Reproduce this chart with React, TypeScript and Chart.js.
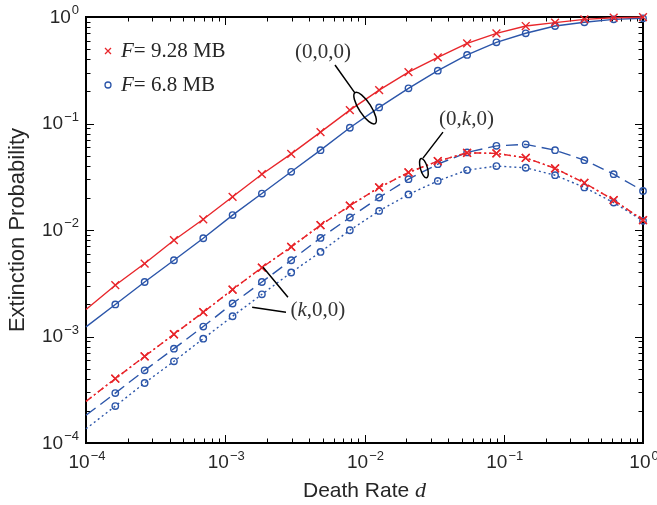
import React, { useEffect, useRef } from 'react';
import { Chart, registerables } from 'chart.js';
Chart.register(...registerables);

// Death rate d (x values)
const deathRate = [1e-4, 1.623e-4, 2.637e-4, 4.281e-4, 6.952e-4, 1.129e-3, 1.833e-3, 2.976e-3, 4.833e-3, 7.848e-3, 0.01274, 0.02069, 0.0336, 0.05456, 0.08859, 0.1438, 0.2336, 0.3793, 0.6158, 1.0];

// F = 9.28 MB
const red000 = [1.79e-3, 3.03e-3, 4.84e-3, 8.02e-3, 1.26e-2, 2.05e-2, 3.34e-2, 5.19e-2, 8.3e-2, 0.1336, 0.206, 0.304, 0.418, 0.566, 0.703, 0.823, 0.885, 0.95, 0.985, 0.995];
const redK00 = [2.46e-4, 4.02e-4, 6.51e-4, 1.05e-3, 1.69e-3, 2.76e-3, 4.44e-3, 6.94e-3, 1.11e-2, 1.69e-2, 2.51e-2, 3.47e-2, 4.43e-2, 5.31e-2, 5.24e-2, 4.76e-2, 3.79e-2, 2.77e-2, 1.91e-2, 1.24e-2];
const red0K0 = [2.46e-4, 4.02e-4, 6.51e-4, 1.05e-3, 1.69e-3, 2.76e-3, 4.44e-3, 6.94e-3, 1.11e-2, 1.69e-2, 2.51e-2, 3.47e-2, 4.43e-2, 5.31e-2, 5.24e-2, 4.76e-2, 3.79e-2, 2.77e-2, 1.91e-2, 1.24e-2];

// F = 6.8 MB
const blue000 = [1.23e-3, 2.0e-3, 3.25e-3, 5.2e-3, 8.37e-3, 1.38e-2, 2.2e-2, 3.52e-2, 5.62e-2, 9.12e-2, 0.1416, 0.214, 0.313, 0.44, 0.578, 0.703, 0.823, 0.892, 0.95, 0.972];
const blue0K0 = [1.82e-4, 2.94e-4, 4.81e-4, 7.69e-4, 1.24e-3, 2.04e-3, 3.25e-3, 5.2e-3, 8.43e-3, 1.31e-2, 2.02e-2, 3.0e-2, 4.15e-2, 5.35e-2, 6.17e-2, 6.37e-2, 5.62e-2, 4.53e-2, 3.34e-2, 2.33e-2];
const blueK00 = [1.36e-4, 2.22e-4, 3.66e-4, 5.85e-4, 9.55e-4, 1.55e-3, 2.49e-3, 3.99e-3, 6.22e-3, 9.95e-3, 1.51e-2, 2.16e-2, 2.89e-2, 3.65e-2, 3.98e-2, 3.84e-2, 3.27e-2, 2.51e-2, 1.81e-2, 1.22e-2];

const tickExponents = [-4, -3, -2, -1, 0];
const legendValues = ['9.28 MB', '6.8 MB'];
const xTitle = 'Death Rate ';
const xTitleVar = 'd';
const yTitle = 'Extinction Probability';

// annotation labels (data coordinates)
const annTexts = ['(0,0,0)', '(0,k,0)', '(k,0,0)'];
const annTextPos = [[5.04e-3, 0.479], [0.054, 0.1124], [4.63e-3, 1.8e-3]];
const annLines = [
  [[6.14e-3, 0.354], [8.55e-3, 0.193]],
  [[0.0366, 0.083], [0.0263, 0.0473]],
  [[1.87e-3, 4.47e-3], [2.82e-3, 2.34e-3]],
  [[1.56e-3, 1.88e-3], [2.73e-3, 1.69e-3]],
];
const annEllipses = [[1.01e-2, 0.1395], [0.0267, 0.0381]];

const RED = '#e8262b';
const BLUE = '#2b55a9';
const TXT = '#262626';
const SANS = '"Liberation Sans", Arial, Helvetica, sans-serif';
const SERIF = '"Liberation Serif", "Times New Roman", serif';

const pts = (ys: number[]) => ys.map((y, i) => ({ x: deathRate[i], y }));

function mkSet(label: string, ys: number[], color: string, dash: number[], cross: boolean) {
  return {
    label,
    data: pts(ys),
    borderColor: color,
    backgroundColor: 'transparent',
    borderWidth: 1.4,
    borderDash: dash,
    pointStyle: cross ? 'crossRot' : 'circle',
    pointRadius: (c: any) => (c.dataIndex === 0 ? 0 : cross ? 5.5 : 3.2),
    pointBorderColor: color,
    pointBackgroundColor: 'transparent',
    pointBorderWidth: 1.4,
    tension: 0,
    clip: false as any,
  };
}

function drawPow(ctx: CanvasRenderingContext2D, exp: number, x: number, y: number, align: 'right' | 'center') {
  const base = '10';
  const sup = exp === 0 ? '0' : '\u2212' + Math.abs(exp);
  ctx.font = `19px ${SANS}`;
  const wb = ctx.measureText(base).width;
  ctx.font = `13px ${SANS}`;
  const ws = ctx.measureText(sup).width;
  const total = wb + 1 + ws;
  const x0 = align === 'right' ? x - total : x - total / 2;
  ctx.textAlign = 'left';
  ctx.textBaseline = 'alphabetic';
  ctx.font = `19px ${SANS}`;
  ctx.fillText(base, x0, y);
  ctx.font = `13px ${SANS}`;
  ctx.fillText(sup, x0 + wb + 1, y - 8.5);
}

function drawMixed(ctx: CanvasRenderingContext2D, text: string, cx: number, baseline: number, size: number) {
  // render with italic "k"
  const parts = text.split(/(k)/).filter((s) => s.length);
  const fonts = parts.map((p) => (p === 'k' ? `italic ${size}px ${SERIF}` : `${size}px ${SERIF}`));
  let total = 0;
  const widths = parts.map((p, i) => {
    ctx.font = fonts[i];
    const w = ctx.measureText(p).width;
    total += w;
    return w;
  });
  let x = cx - total / 2;
  ctx.textAlign = 'left';
  ctx.textBaseline = 'alphabetic';
  parts.forEach((p, i) => {
    ctx.font = fonts[i];
    ctx.fillText(p, x, baseline);
    x += widths[i];
  });
}

const decorPlugin = {
  id: 'decor',
  beforeDatasetsDraw(chart: any) {
    const { ctx, chartArea: a, scales } = chart;
    const xs = scales.x;
    const ys = scales.y;
    ctx.save();
    ctx.strokeStyle = '#000';
    ctx.lineWidth = 1;
    ctx.beginPath();
    for (let e = -4; e <= 0; e++) {
      for (let m = 1; m <= 9; m++) {
        if (e === 0 && m > 1) break;
        const v = m * Math.pow(10, e);
        const len = m === 1 ? 8 : 4.5;
        const px = Math.round(xs.getPixelForValue(v)) + 0.5;
        ctx.moveTo(px, a.bottom);
        ctx.lineTo(px, a.bottom - len);
        ctx.moveTo(px, a.top);
        ctx.lineTo(px, a.top + len);
        const py = Math.round(ys.getPixelForValue(v)) + 0.5;
        ctx.moveTo(a.left, py);
        ctx.lineTo(a.left + len, py);
        ctx.moveTo(a.right, py);
        ctx.lineTo(a.right - len, py);
      }
    }
    ctx.stroke();
    ctx.lineWidth = 2;
    ctx.strokeRect(a.left, a.top, a.right - a.left, a.bottom - a.top);
    ctx.restore();
  },
  afterDatasetsDraw(chart: any) {
    const { ctx, chartArea: a, scales } = chart;
    const xs = scales.x;
    const ys = scales.y;
    ctx.save();
    ctx.fillStyle = TXT;
    // tick labels
    tickExponents.forEach((e) => {
      const v = Math.pow(10, e);
      drawPow(ctx, e, a.left - 7, ys.getPixelForValue(v) + 5.5, 'right');
      drawPow(ctx, e, xs.getPixelForValue(v) + 1, a.bottom + 25, 'center');
    });
    // x title
    ctx.font = `21px ${SANS}`;
    const w1 = ctx.measureText(xTitle).width;
    ctx.font = `italic 22px ${SERIF}`;
    const w2 = ctx.measureText(xTitleVar).width;
    const cx = (a.left + a.right) / 2;
    let x0 = cx - (w1 + w2) / 2;
    ctx.textAlign = 'left';
    ctx.textBaseline = 'alphabetic';
    ctx.font = `21px ${SANS}`;
    ctx.fillText(xTitle, x0, a.bottom + 54);
    ctx.font = `italic 22px ${SERIF}`;
    ctx.fillText(xTitleVar, x0 + w1, a.bottom + 54);
    // y title
    ctx.save();
    ctx.translate(a.left - 62, (a.top + a.bottom) / 2);
    ctx.rotate(-Math.PI / 2);
    ctx.textAlign = 'center';
    ctx.font = `22px ${SANS}`;
    ctx.fillText(yTitle, 0, 0);
    ctx.restore();

    // legend
    const lx = a.left + 22;
    const lys = [a.top + 34, a.top + 68];
    const colors = [RED, BLUE];
    legendValues.forEach((t, i) => {
      const y = lys[i];
      ctx.strokeStyle = colors[i];
      ctx.lineWidth = 1.3;
      ctx.beginPath();
      if (i === 0) {
        ctx.moveTo(lx - 3, y - 3);
        ctx.lineTo(lx + 3, y + 3);
        ctx.moveTo(lx + 3, y - 3);
        ctx.lineTo(lx - 3, y + 3);
      } else {
        ctx.arc(lx, y, 3, 0, Math.PI * 2);
      }
      ctx.stroke();
      ctx.fillStyle = TXT;
      ctx.textAlign = 'left';
      ctx.textBaseline = 'alphabetic';
      ctx.font = `italic 21px ${SERIF}`;
      const tx = lx + 13;
      ctx.fillText('F', tx, y + 6);
      const wf = ctx.measureText('F').width;
      ctx.font = `21px ${SERIF}`;
      ctx.fillText('= ' + t, tx + wf, y + 6);
    });

    // annotations
    ctx.fillStyle = '#333';
    annTexts.forEach((t, i) => {
      const [dx, dy] = annTextPos[i];
      drawMixed(ctx, t, xs.getPixelForValue(dx), ys.getPixelForValue(dy) + 7, 21);
    });
    ctx.strokeStyle = '#000';
    ctx.lineWidth = 1.5;
    ctx.beginPath();
    annLines.forEach(([p, q]) => {
      ctx.moveTo(xs.getPixelForValue(p[0]), ys.getPixelForValue(p[1]));
      ctx.lineTo(xs.getPixelForValue(q[0]), ys.getPixelForValue(q[1]));
    });
    ctx.stroke();
    const ellSizes = [[18.5, 6, 57], [10, 3.5, 74]];
    annEllipses.forEach(([ex, ey], i) => {
      const [rx, ry, rot] = ellSizes[i];
      ctx.beginPath();
      ctx.ellipse(xs.getPixelForValue(ex), ys.getPixelForValue(ey), rx, ry, (rot * Math.PI) / 180, 0, Math.PI * 2);
      ctx.stroke();
    });
    ctx.restore();
  },
};

export default function App() {
  const ref = useRef<HTMLCanvasElement>(null);
  useEffect(() => {
    if (!ref.current) return;
    const chart = new Chart(ref.current, {
      type: 'line',
      data: {
        datasets: [
          mkSet('F = 9.28 MB (0,0,0)', red000, RED, [], true),
          mkSet('F = 6.8 MB (0,0,0)', blue000, BLUE, [], false),
          mkSet('F = 9.28 MB (k,0,0)', redK00, RED, [7, 3, 2, 3], true),
          mkSet('F = 9.28 MB (0,k,0)', red0K0, RED, [2, 3], true),
          mkSet('F = 6.8 MB (0,k,0)', blue0K0, BLUE, [12, 6], false),
          mkSet('F = 6.8 MB (k,0,0)', blueK00, BLUE, [2, 3], false),
        ] as any,
      },
      options: {
        responsive: false,
        maintainAspectRatio: false,
        devicePixelRatio: 1,
        animation: false,
        layout: { padding: { left: 86, top: 17, right: 14, bottom: 62 } },
        plugins: { legend: { display: false }, tooltip: { enabled: false } },
        scales: {
          x: {
            type: 'logarithmic',
            min: 1e-4,
            max: 1,
            grid: { display: false, drawTicks: false },
            border: { display: false },
            ticks: { display: false },
          },
          y: {
            type: 'logarithmic',
            min: 1e-4,
            max: 1,
            grid: { display: false, drawTicks: false },
            border: { display: false },
            ticks: { display: false },
          },
        },
      },
      plugins: [decorPlugin],
    });
    return () => chart.destroy();
  }, []);
  return (
    <div style={{ position: 'absolute', left: 0, top: 0, width: 657, height: 505, background: '#fff' }}>
      <canvas ref={ref} width={657} height={505} style={{ display: 'block' }} />
    </div>
  );
}
